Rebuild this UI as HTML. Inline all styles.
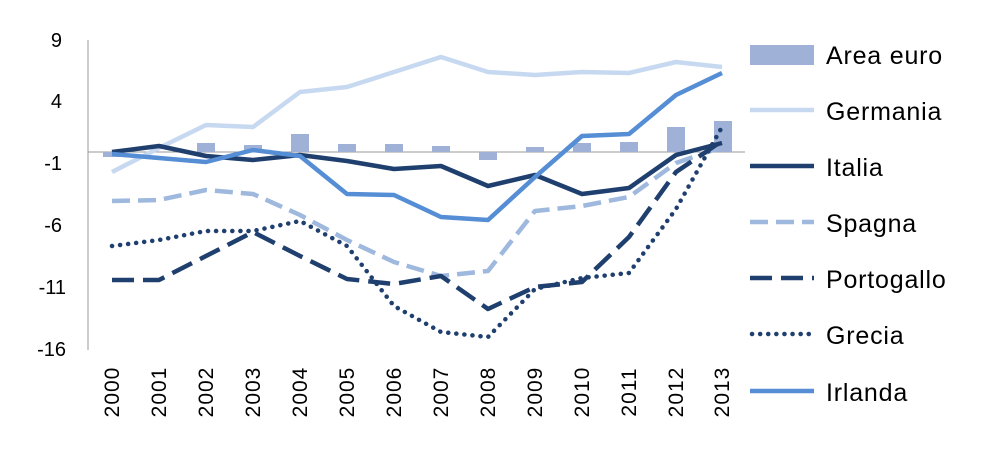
<!DOCTYPE html>
<html><head><meta charset="utf-8"><style>body{margin:0;background:#fff}svg{display:block;font-family:"Liberation Sans",sans-serif}</style></head><body>
<svg width="991" height="450" viewBox="0 0 991 450">
<g font-size="20" fill="#000" text-anchor="end">
<text x="62" y="47">9</text><text x="62" y="108">4</text><text x="62" y="170">-1</text><text x="62" y="232">-6</text><text x="66" y="294">-11</text><text x="66" y="356">-16</text>
</g>
<line x1="88" y1="40" x2="88" y2="350" stroke="#999" stroke-width="1"/>
<line x1="88" y1="152" x2="745" y2="152" stroke="#999" stroke-width="1"/>
<g fill="#9fb1d6">
<rect x="103" y="152" width="18" height="5"/><rect x="197" y="143" width="18" height="9"/><rect x="244" y="145" width="18" height="7"/><rect x="291" y="134" width="18" height="18"/><rect x="338" y="144" width="18" height="8"/><rect x="385" y="144" width="18" height="8"/><rect x="432" y="146" width="18" height="6"/><rect x="479" y="152" width="18" height="8"/><rect x="526" y="147" width="18" height="5"/><rect x="573" y="143" width="18" height="9"/><rect x="620" y="142" width="18" height="10"/><rect x="667" y="127" width="18" height="25"/><rect x="714" y="121" width="18" height="31"/>
</g>
<g fill="none" stroke-width="4.5" stroke-linejoin="round">
<polyline stroke="#c6d9f0" points="112,172 159,148 206,125 253,127 300,92 347,87 394,72 441,57 488,72 535,75 582,72 629,73 676,62 722,67"/>
<polyline stroke="#1f3f6e" points="112,152 159,146 206,156 253,160 300,155 347,161 394,169 441,166 488,186 535,175 582,194 629,188 676,155 722,143"/>
<polyline stroke="#9fb8de" stroke-dasharray="18,8" points="112,201 159,200 206,190 253,194 300,215 347,240 394,262 441,276 488,271 535,211 582,206 629,197 676,163 722,147"/>
<polyline stroke="#1f3f6e" stroke-dasharray="22,9" points="112,280 159,280 206,256 253,232 300,256 347,279 394,284 441,276 488,309 535,287 582,282 629,237 676,172 722,141"/>
<polyline stroke="#1f3f6e" stroke-dasharray="0.1,8" stroke-linecap="round" points="112,246 159,240 206,231 253,231 300,221 347,246 394,306 441,332 488,337 535,289 582,278 629,273 676,209 722,127"/>
<polyline stroke="#558ed5" points="112,154 159,158 206,162 253,150 300,156 347,194 394,195 441,217 488,220 535,177 582,136 629,134 676,95 722,73"/>
</g>
<g font-size="21" text-anchor="middle" letter-spacing="1">
<text transform="translate(119,392) rotate(-90)">2000</text><text transform="translate(166,392) rotate(-90)">2001</text><text transform="translate(213,392) rotate(-90)">2002</text><text transform="translate(260,392) rotate(-90)">2003</text><text transform="translate(307,392) rotate(-90)">2004</text><text transform="translate(354,392) rotate(-90)">2005</text><text transform="translate(401,392) rotate(-90)">2006</text><text transform="translate(448,392) rotate(-90)">2007</text><text transform="translate(495,392) rotate(-90)">2008</text><text transform="translate(542,392) rotate(-90)">2009</text><text transform="translate(589,392) rotate(-90)">2010</text><text transform="translate(636,392) rotate(-90)">2011</text><text transform="translate(683,392) rotate(-90)">2012</text><text transform="translate(729,392) rotate(-90)">2013</text>
</g>
<rect x="750" y="45" width="64" height="20" fill="#9fb1d6"/>
<g fill="none" stroke-width="4.5">
<line x1="750" y1="110" x2="814" y2="110" stroke="#c6d9f0"/>
<line x1="750" y1="166" x2="814" y2="166" stroke="#1f3f6e"/>
<line x1="750" y1="222" x2="814" y2="222" stroke="#9fb8de" stroke-dasharray="18,8"/>
<line x1="750" y1="278" x2="814" y2="278" stroke="#1f3f6e" stroke-dasharray="22,9"/>
<line x1="752" y1="334" x2="814" y2="334" stroke="#1f3f6e" stroke-dasharray="0.1,8" stroke-linecap="round"/>
<line x1="750" y1="391" x2="814" y2="391" stroke="#558ed5"/>
</g>
<g font-size="25" letter-spacing="0.8">
<text x="826" y="64">Area euro</text><text x="826" y="120">Germania</text><text x="826" y="176">Italia</text><text x="826" y="232">Spagna</text><text x="826" y="288">Portogallo</text><text x="826" y="344">Grecia</text><text x="826" y="401">Irlanda</text>
</g>
</svg>
</body></html>
